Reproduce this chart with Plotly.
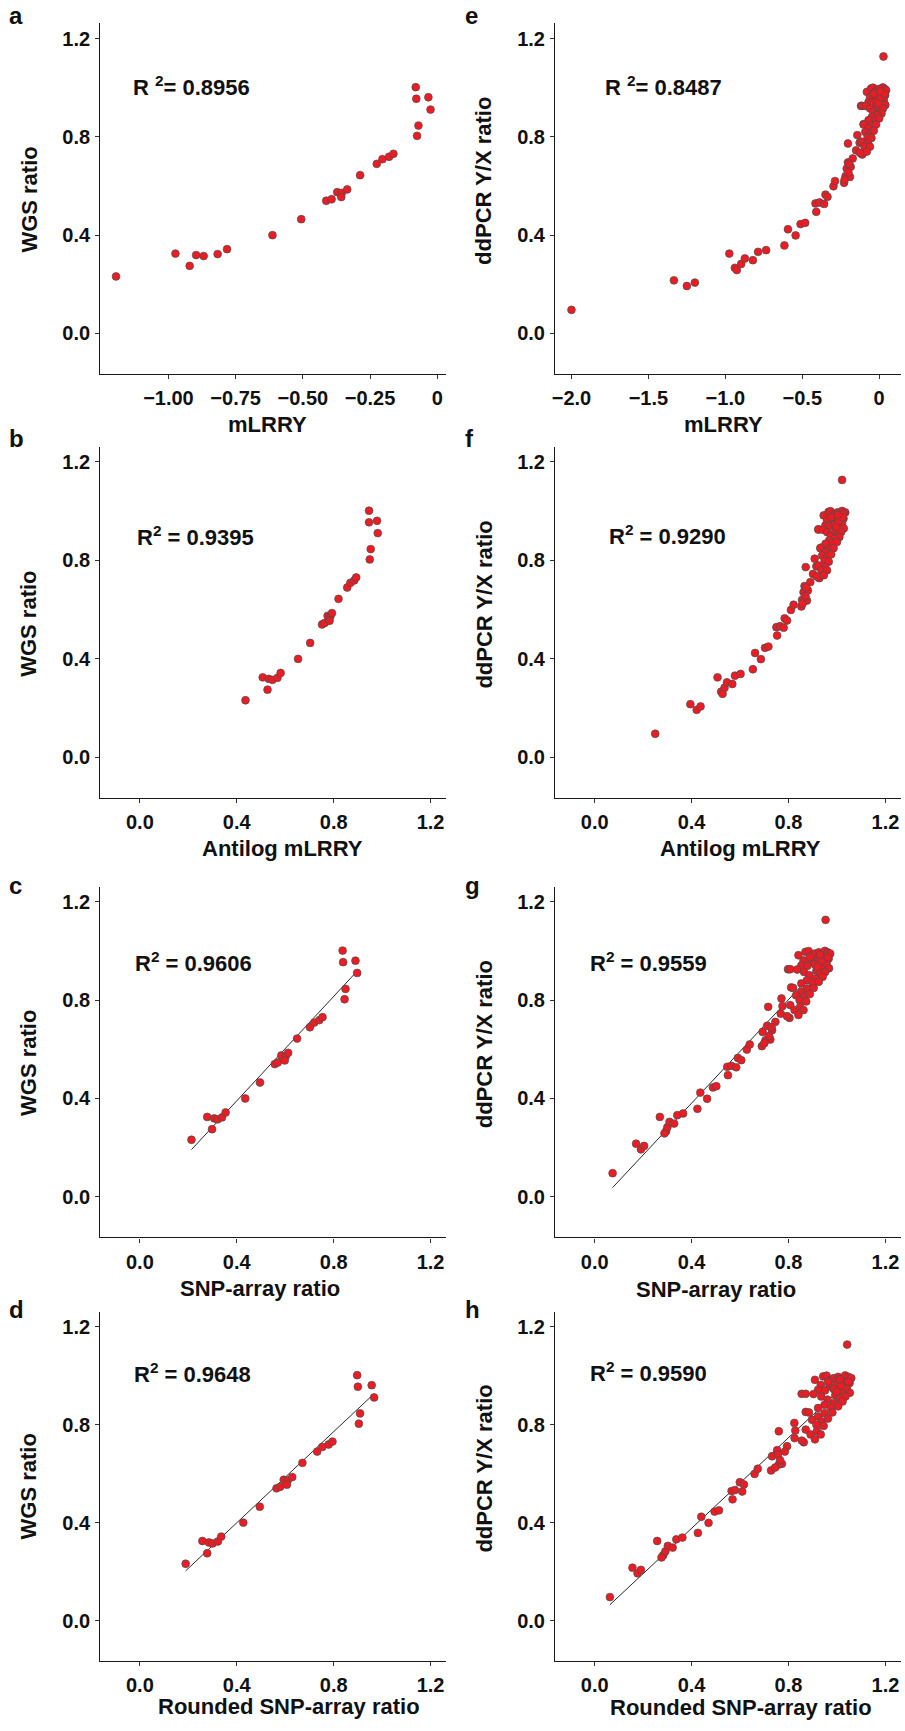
import numpy as np
import plotly.graph_objects as go

# ---------------- data ----------------
wgs_ratio = [0.232, 0.325, 0.275, 0.319, 0.315, 0.323, 0.343, 0.400, 0.465, 0.540,
             0.546, 0.575, 0.572, 0.555, 0.586, 0.644, 0.690, 0.709, 0.719, 0.731,
             1.002, 0.955, 0.846, 0.804, 0.961, 0.911]
a_mlrry = [-1.195, -0.974, -0.921, -0.897, -0.869, -0.817, -0.782, -0.613, -0.506, -0.413,
           -0.393, -0.372, -0.355, -0.357, -0.335, -0.287, -0.225, -0.204, -0.179, -0.163,
           -0.080, -0.078, -0.070, -0.075, -0.033, -0.025]
b_antilog = [0.436, 0.507, 0.527, 0.532, 0.547, 0.568, 0.581, 0.653, 0.703, 0.752,
             0.763, 0.775, 0.786, 0.783, 0.793, 0.820, 0.856, 0.869, 0.885, 0.893,
             0.946, 0.946, 0.953, 0.949, 0.979, 0.982]
c_snp = [0.213, 0.278, 0.298, 0.307, 0.321, 0.339, 0.354, 0.435, 0.496, 0.557,
         0.569, 0.584, 0.602, 0.598, 0.612, 0.649, 0.702, 0.720, 0.741, 0.754,
         0.837, 0.839, 0.849, 0.845, 0.890, 0.897]
d_rounded = [0.189, 0.258, 0.278, 0.285, 0.300, 0.322, 0.336, 0.427, 0.495, 0.564,
             0.579, 0.594, 0.610, 0.607, 0.629, 0.671, 0.732, 0.753, 0.779, 0.795,
             0.897, 0.900, 0.909, 0.904, 0.957, 0.967]

ddpcr_ratio = [0.096, 0.216, 0.193, 0.207, 0.325, 0.267, 0.258, 0.283, 0.305, 0.298,
               0.332, 0.339, 0.358, 0.424, 0.399, 0.445, 0.450, 0.495, 0.529, 0.533,
               0.527, 0.565, 0.556, 0.599, 0.620, 0.613, 0.640, 0.671, 0.696, 0.637,
               0.678, 0.712, 0.773, 0.807, 0.776, 0.728, 0.926, 0.852, 1.127, 0.625,
               0.655, 0.690,
               0.983, 0.997, 1.000, 0.983, 0.990, 0.995, 0.985, 1.001, 0.995, 0.990,
               0.970, 0.972, 0.963, 0.956, 0.962, 0.942, 0.940, 0.945, 0.936, 0.950,
               0.930, 0.926, 0.925, 0.915, 0.902, 0.920, 0.908, 0.915, 0.895, 0.888,
               0.881, 0.870, 0.875, 0.868, 0.847, 0.850, 0.850, 0.834, 0.820, 0.814,
               0.825, 0.800, 0.795, 0.780, 0.773, 0.760, 0.760, 0.745, 0.740, 0.735,
               0.960, 0.935, 0.975, 0.975, 0.985]
e_mlrry = [-2.000, -1.334, -1.250, -1.198, -0.974, -0.938, -0.925, -0.897, -0.873, -0.821,
           -0.787, -0.735, -0.616, -0.593, -0.543, -0.511, -0.481, -0.409, -0.414, -0.388,
           -0.358, -0.349, -0.336, -0.297, -0.287, -0.228, -0.218, -0.211, -0.203, -0.190,
           -0.185, -0.172, -0.203, -0.142, -0.127, -0.110, -0.118, -0.101, 0.028, -0.225,
           -0.200, -0.195,
           -0.080, -0.052, -0.040, -0.026, -0.015, 0.000, 0.010, 0.024, 0.035, 0.045,
           0.039, 0.020, -0.004, -0.030, -0.060, -0.069, -0.045, -0.015, 0.017, 0.030,
           0.040, -0.112, -0.085, -0.058, -0.037, -0.010, 0.006, 0.025, 0.015, -0.015,
           -0.047, -0.025, 0.000, -0.069, -0.047, -0.101, -0.020, -0.069, -0.090, -0.058,
           -0.035, -0.075, -0.050, -0.112, -0.073, -0.095, -0.060, -0.150, -0.080, -0.125,
           0.010, -0.005, 0.035, -0.035, 0.005]
f_antilog = [0.250, 0.395, 0.421, 0.437, 0.507, 0.522, 0.528, 0.536, 0.546, 0.568,
             0.579, 0.602, 0.653, 0.662, 0.686, 0.703, 0.717, 0.753, 0.750, 0.765,
             0.780, 0.784, 0.794, 0.810, 0.821, 0.853, 0.856, 0.862, 0.866, 0.876,
             0.880, 0.890, 0.871, 0.908, 0.915, 0.927, 0.923, 0.935, 1.021, 0.858,
             0.870, 0.873,
             0.945, 0.965, 0.973, 0.986, 0.993, 1.003, 1.010, 1.021, 1.034, 1.027,
             1.027, 1.014, 0.997, 0.979, 0.959, 0.952, 0.969, 0.990, 1.012, 1.021,
             1.028, 0.924, 0.942, 0.959, 0.975, 0.993, 1.004, 1.017, 1.010, 0.990,
             0.968, 0.983, 1.000, 0.953, 0.968, 0.931, 0.986, 0.953, 0.939, 0.960,
             0.976, 0.949, 0.966, 0.924, 0.951, 0.936, 0.959, 0.901, 0.946, 0.917,
             1.007, 0.997, 1.024, 0.976, 1.003]
g_snp = [0.074, 0.171, 0.191, 0.204, 0.269, 0.295, 0.288, 0.300, 0.309, 0.328,
         0.341, 0.365, 0.424, 0.436, 0.464, 0.488, 0.502, 0.550, 0.547, 0.564,
         0.584, 0.591, 0.605, 0.628, 0.640, 0.690, 0.725, 0.693, 0.712, 0.705,
         0.732, 0.746, 0.716, 0.771, 0.775, 0.804, 0.798, 0.811, 0.953, 0.700,
         0.720, 0.730,
         0.841, 0.870, 0.883, 0.898, 0.909, 0.925, 0.936, 0.950, 0.962, 0.972,
         0.966, 0.946, 0.921, 0.894, 0.862, 0.853, 0.878, 0.909, 0.943, 0.957,
         0.967, 0.807, 0.836, 0.864, 0.886, 0.915, 0.931, 0.951, 0.941, 0.909,
         0.876, 0.899, 0.925, 0.853, 0.876, 0.819, 0.904, 0.853, 0.831, 0.864,
         0.888, 0.846, 0.873, 0.807, 0.848, 0.825, 0.862, 0.768, 0.841, 0.794,
         0.936, 0.920, 0.962, 0.888, 0.930]
h_rounded = [0.063, 0.156, 0.177, 0.191, 0.258, 0.283, 0.276, 0.292, 0.302, 0.322,
             0.337, 0.362, 0.426, 0.440, 0.470, 0.495, 0.513, 0.569, 0.565, 0.579,
             0.609, 0.599, 0.616, 0.660, 0.673, 0.728, 0.773, 0.732, 0.753, 0.760,
             0.756, 0.794, 0.760, 0.824, 0.828, 0.863, 0.854, 0.871, 1.042, 0.745,
             0.765, 0.785,
             0.909, 0.943, 0.957, 0.974, 0.987, 1.005, 1.017, 1.034, 1.047, 1.059,
             1.052, 1.029, 1.000, 0.969, 0.933, 0.922, 0.951, 0.987, 1.025, 1.041,
             1.053, 0.871, 0.903, 0.935, 0.961, 0.993, 1.012, 1.035, 1.023, 0.987,
             0.949, 0.975, 1.005, 0.922, 0.949, 0.884, 0.981, 0.922, 0.897, 0.935,
             0.963, 0.915, 0.945, 0.871, 0.917, 0.891, 0.933, 0.825, 0.909, 0.855,
             1.017, 0.999, 1.047, 0.963, 1.011]

r2_labels = ["R <sup>2</sup>= 0.8956", "R<sup>2</sup> = 0.9395", "R<sup>2</sup> = 0.9606",
             "R<sup>2</sup> = 0.9648", "R <sup>2</sup>= 0.8487", "R<sup>2</sup> = 0.9290",
             "R<sup>2</sup> = 0.9559", "R<sup>2</sup> = 0.9590"]
panel_letters = ["a", "b", "c", "d", "e", "f", "g", "h"]
x_titles = ["mLRRY", "Antilog mLRRY", "SNP-array ratio", "Rounded SNP-array ratio",
            "mLRRY", "Antilog mLRRY", "SNP-array ratio", "Rounded SNP-array ratio"]
y_titles = ["WGS ratio"] * 4 + ["ddPCR Y/X ratio"] * 4

ratio_ticks = [0.0, 0.4, 0.8, 1.2]
ratio_ticktext = ["0.0", "0.4", "0.8", "1.2"]
a_ticks = [-1.00, -0.75, -0.50, -0.25, 0.0]
a_ticktext = ["\u22121.00", "\u22120.75", "\u22120.50", "\u22120.25", "0"]
e_ticks = [-2.0, -1.5, -1.0, -0.5, 0.0]
e_ticktext = ["\u22122.0", "\u22121.5", "\u22121.0", "\u22120.5", "0"]

# ---------------- layout geometry ----------------
W, H = 905, 1731
FONT = "Liberation Sans, Arial, sans-serif"

def px_x(p):
    return p / W

def px_y(p):
    return 1 - p / H

col_dom = [[px_x(97.7), px_x(444.3)], [px_x(554), px_x(900.7)]]
row_dom = [[px_y(374), px_y(23.3)], [px_y(798), px_y(446.7)],
           [px_y(1237.3), px_y(886.7)], [px_y(1661), px_y(1311.5)]]
y_range = [-0.165, 1.262]
ratio_xrange = [-0.163, 1.263]

panels = [
    dict(x=a_mlrry, y=wgs_ratio, fit=False, xr=[-1.2532, 0.0319], tv=a_ticks, tt=a_ticktext),
    dict(x=b_antilog, y=wgs_ratio, fit=False, xr=ratio_xrange, tv=ratio_ticks, tt=ratio_ticktext),
    dict(x=c_snp, y=wgs_ratio, fit=True, xr=ratio_xrange, tv=ratio_ticks, tt=ratio_ticktext),
    dict(x=d_rounded, y=wgs_ratio, fit=True, xr=ratio_xrange, tv=ratio_ticks, tt=ratio_ticktext),
    dict(x=e_mlrry, y=ddpcr_ratio, fit=False, xr=[-2.106, 0.140], tv=e_ticks, tt=e_ticktext),
    dict(x=f_antilog, y=ddpcr_ratio, fit=False, xr=ratio_xrange, tv=ratio_ticks, tt=ratio_ticktext),
    dict(x=g_snp, y=ddpcr_ratio, fit=True, xr=ratio_xrange, tv=ratio_ticks, tt=ratio_ticktext),
    dict(x=h_rounded, y=ddpcr_ratio, fit=True, xr=ratio_xrange, tv=ratio_ticks, tt=ratio_ticktext),
]

# text positions in pixels
r2_pos = [(128, 86.5), (132, 535.5), (130, 961.5), (129, 1372.5),
          (602, 85.5), (606, 534.5), (587, 961.5), (587, 1371.5)]
letter_pos = [(4, 15), (4, 439), (4, 885), (4, 1309),
              (462, 15), (462, 439), (462, 885), (462, 1309)]
xtitle_pos = [(265.5, 424.3), (280.8, 848.7), (258.3, 1288.7), (286.7, 1706),
              (722.5, 424.5), (740, 848.7), (715, 1289.2), (740.3, 1707.7)]
ytitle_pos = [(25.7, 200), (25.7, 624.2), (25.7, 1063.3), (25.7, 1486.8),
              (482.7, 180.8), (482.7, 604.5), (482.7, 1044.2), (482.7, 1468.5)]

fig = go.Figure()
layout_axes = {}
annotations = []

for i, p in enumerate(panels):
    n = i + 1
    col, row = i // 4, i % 4
    xa = "x" if n == 1 else f"x{n}"
    ya = "y" if n == 1 else f"y{n}"
    xk = "xaxis" if n == 1 else f"xaxis{n}"
    yk = "yaxis" if n == 1 else f"yaxis{n}"

    if p["fit"]:
        xs = np.array(p["x"])
        ys = np.array(p["y"])
        slope, icpt = np.polyfit(xs, ys, 1)
        lx = np.array([xs.min(), xs.max()])
        fig.add_trace(go.Scatter(x=lx, y=slope * lx + icpt, mode="lines",
                                 line=dict(color="#2a2a2a", width=1),
                                 xaxis=xa, yaxis=ya, showlegend=False, hoverinfo="skip"))
    fig.add_trace(go.Scatter(x=p["x"], y=p["y"], mode="markers",
                             marker=dict(size=7.8, color="#EC1C24",
                                         line=dict(color="#4d4d4d", width=0.7)),
                             xaxis=xa, yaxis=ya, showlegend=False))

    common = dict(showgrid=False, zeroline=False, showline=True, linecolor="#1a1a1a",
                  linewidth=1.4, ticks="outside", ticklen=4, tickwidth=1.3,
                  tickcolor="#333333",
                  tickfont=dict(family=FONT, size=20, color="#111111", weight="bold"))
    layout_axes[xk] = dict(domain=col_dom[col], anchor=ya, range=p["xr"],
                           tickmode="array", tickvals=p["tv"], ticktext=p["tt"],
                           ticklabelstandoff=2, **common)
    layout_axes[yk] = dict(domain=row_dom[row], anchor=xa, range=y_range,
                           tickmode="array", tickvals=ratio_ticks, ticktext=ratio_ticktext,
                           ticklabelstandoff=1, **common)

    bold = dict(family=FONT, color="#111111", weight="bold")
    rx, ry = r2_pos[i]
    annotations.append(dict(text=r2_labels[i], xref="paper", yref="paper",
                            x=px_x(rx), y=px_y(ry), xanchor="left", yanchor="middle",
                            showarrow=False, font=dict(size=22, **bold)))
    lx_, ly_ = letter_pos[i]
    annotations.append(dict(text=panel_letters[i], xref="paper", yref="paper",
                            x=px_x(lx_), y=px_y(ly_), xanchor="left", yanchor="middle",
                            showarrow=False, font=dict(size=24, **bold)))
    tx, ty = xtitle_pos[i]
    annotations.append(dict(text=x_titles[i], xref="paper", yref="paper",
                            x=px_x(tx), y=px_y(ty), xanchor="center", yanchor="middle",
                            showarrow=False, font=dict(size=22, **bold)))
    vx, vy = ytitle_pos[i]
    annotations.append(dict(text=y_titles[i], xref="paper", yref="paper",
                            x=px_x(vx), y=px_y(vy), xanchor="center", yanchor="middle",
                            textangle=-90, showarrow=False, font=dict(size=22, **bold)))

fig.update_layout(width=W, height=H, margin=dict(l=0, r=0, t=0, b=0),
                  paper_bgcolor="white", plot_bgcolor="white",
                  font=dict(family=FONT), annotations=annotations, **layout_axes)

fig.write_html("out.html")
